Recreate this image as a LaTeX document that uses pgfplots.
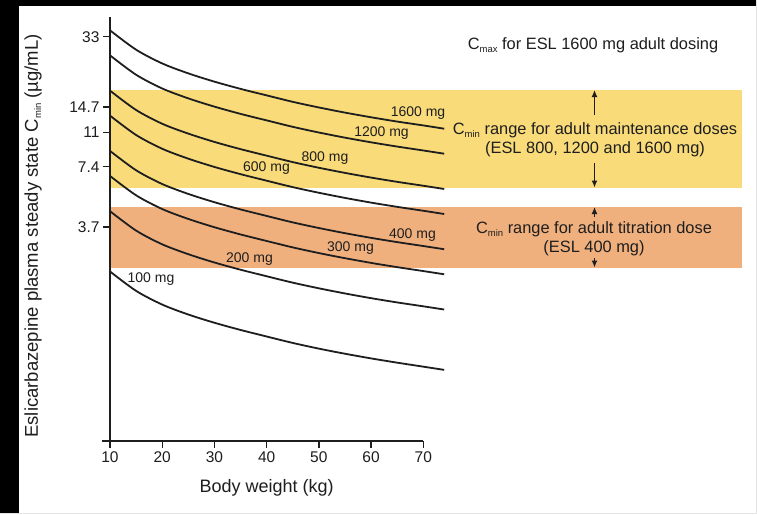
\documentclass[border=0pt]{standalone}
\usepackage{fontspec}
\setmainfont{Liberation Sans}
\usepackage{pgfplots}
\usepackage{pgfplotstable}
\pgfplotsset{compat=1.18}
\usetikzlibrary{arrows.meta}
\definecolor{bandyellow}{RGB}{249,219,122}
\definecolor{bandorange}{RGB}{240,176,126}
\definecolor{ink}{RGB}{30,30,30}
\definecolor{edge}{RGB}{228,228,228}
\newcommand{\sub}[1]{\raisebox{-0.35ex}{\fontsize{9.5}{9.5}\selectfont #1}}

\pgfplotstableread{
w d100 d200 d300 d400 d600 d800 d1200 d1600
10 2.220 4.440 6.660 8.880 13.32 17.76 26.64 35.52
15 1.776 3.552 5.329 7.105 10.66 14.21 21.31 28.42
20 1.517 3.033 4.550 6.067 9.100 12.13 18.20 24.27
25 1.353 2.707 4.060 5.413 8.120 10.83 16.24 21.65
30 1.231 2.461 3.692 4.922 7.383 9.844 14.77 19.69
35 1.133 2.265 3.398 4.531 6.796 9.061 13.59 18.12
40 1.051 2.101 3.152 4.203 6.304 8.406 12.61 16.81
45 0.976 1.952 2.928 3.904 5.855 7.807 11.71 15.61
50 0.914 1.829 2.743 3.658 5.487 7.315 10.97 14.63
55 0.862 1.724 2.586 3.448 5.172 6.896 10.34 13.79
60 0.817 1.633 2.450 3.267 4.900 6.534 9.801 13.07
65 0.778 1.555 2.333 3.111 4.666 6.221 9.332 12.44
70 0.743 1.487 2.230 2.974 4.461 5.948 8.922 11.90
74 0.716 1.433 2.149 2.866 4.298 5.731 8.597 11.46
}\curves

\begin{document}
\begin{tikzpicture}
\path[use as bounding box] (0pt,0pt) rectangle (757pt,-514pt);
\fill[white] (0pt,0pt) rectangle (757pt,-514pt);
\fill[black] (0pt,0pt) rectangle (757pt,-6pt);
\fill[black] (0pt,0pt) rectangle (19pt,-514pt);
\fill[edge] (756pt,0pt) rectangle (757pt,-514pt);
\fill[edge] (0pt,-513pt) rectangle (757pt,-514pt);
\begin{axis}[
  at={(110pt,-441pt)}, anchor=south west,
  scale only axis, width=313.3pt, height=424pt,
  xmin=10, xmax=70, ymode=log, ymin=0.316, ymax=41.4,
  clip=false, axis on top,
  axis x line*=bottom, axis y line*=left,
  axis line style={line width=1.3pt, ink},
  xtick={10,20,30,40,50,60,70}, xticklabels={10,20,30,40,50,60,70},
  ytick={3.7,7.4,11,14.7,33}, yticklabels={3.7,7.4,11,14.7,33},
  yminorticks=false, xminorticks=false,
  tick align=outside, major tick length=7pt,
  tick style={line width=1.3pt, ink},
  xticklabel style={font=\fontsize{15.5}{15.5}\selectfont, text=ink},
  yticklabel style={font=\fontsize{15.5}{15.5}\selectfont, text=ink},
  xlabel={Body weight (kg)},
  ylabel={Eslicarbazepine plasma steady state C\sub{min} (µg/mL)},
  every axis x label/.style={at={(axis description cs:0.5,-0.1108)}, anchor=center, font=\fontsize{18}{18}\selectfont, text=ink},
  every axis y label/.style={at={(axis description cs:-0.2458,0.4835)}, anchor=center, rotate=90, font=\fontsize{18.5}{18.5}\selectfont, text=ink},
]
\addplot[fill=bandyellow, draw=none, forget plot] coordinates {(10,5.82) (131,5.82) (131,17.9) (10,17.9)} --cycle;
\addplot[fill=bandorange, draw=none, forget plot] coordinates {(10,2.32) (131,2.32) (131,4.68) (10,4.68)} --cycle;
\foreach \c in {d100,d200,d300,d400,d600,d800,d1200,d1600}{
  \addplot[ink, line width=1.8pt, smooth, no marks] table[x=w, y=\c] {\curves};
}
\end{axis}
\draw[ink, line width=1.3pt] (102pt,-441pt) -- (110pt,-441pt);
\begin{scope}[every node/.style={text=ink, font=\fontsize{14}{14}\selectfont, inner sep=0pt}]
\node at (418pt,-113.5pt) {1600 mg};
\node at (381.5pt,-133.5pt) {1200 mg};
\node at (325pt,-158.5pt) {800 mg};
\node at (266.5pt,-168.5pt) {600 mg};
\node at (412.5pt,-235pt) {400 mg};
\node at (350.5pt,-248.5pt) {300 mg};
\node at (249.5pt,-259pt) {200 mg};
\node at (151pt,-279.5pt) {100 mg};
\end{scope}
\begin{scope}[every node/.style={text=ink, font=\fontsize{16.4}{19}\selectfont, inner sep=0pt, align=center}]
\node at (593pt,-45pt) {C\sub{max} for ESL 1600 mg adult dosing};
\node at (595pt,-139.5pt) {C\sub{min} range for adult maintenance doses\\(ESL 800, 1200 and 1600 mg)};
\node at (594pt,-238.8pt) {C\sub{min} range for adult titration dose\\(ESL 400 mg)};
\end{scope}
\draw[ink, line width=1.3pt, -{Latex[length=7pt,width=6pt]}] (594.5pt,-115pt) -- (594.5pt,-90pt);
\draw[ink, line width=1.3pt, -{Latex[length=7pt,width=6pt]}] (594.5pt,-163pt) -- (594.5pt,-187.5pt);
\draw[ink, line width=1.3pt, -{Latex[length=7pt,width=6pt]}] (594.5pt,-217pt) -- (594.5pt,-207pt);
\draw[ink, line width=1.3pt, -{Latex[length=7pt,width=6pt]}] (594.5pt,-258pt) -- (594.5pt,-267.5pt);
\end{tikzpicture}
\end{document}
